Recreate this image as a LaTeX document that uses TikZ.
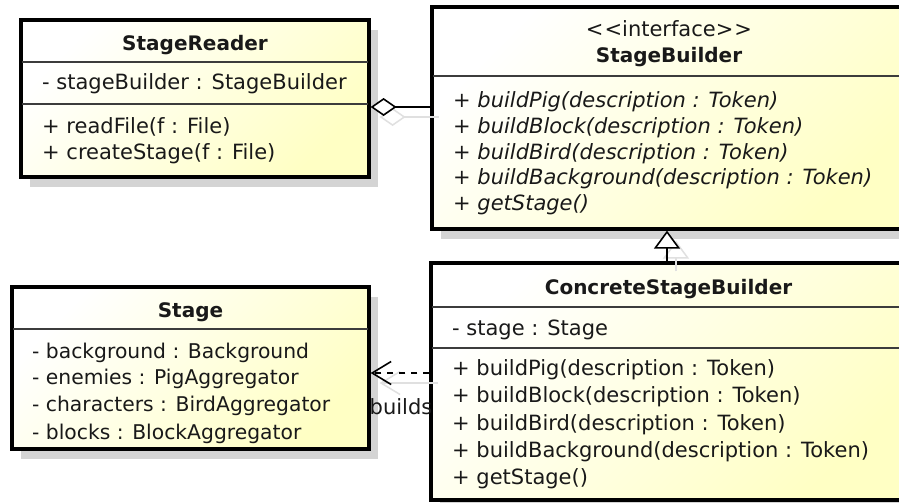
\documentclass[tikz,border=0pt]{standalone}
\usepackage{fontspec}
\setmainfont{DejaVu Sans}
\usetikzlibrary{arrows.meta,shadows}
\definecolor{umly}{RGB}{255,255,196}
\definecolor{shadowgray}{RGB}{212,212,212}
\definecolor{sepgray}{RGB}{60,60,60}
\definecolor{ghost}{RGB}{224,224,224}
\definecolor{ink}{RGB}{25,25,25}
\begin{document}
\begin{tikzpicture}[x=1pt,y=-1pt,
  classbox/.style={draw=black, line width=3.2pt, top color=white, bottom color=umly, shading angle=45,
    drop shadow={shadow xshift=9pt, shadow yshift=-10pt, fill=shadowgray, opacity=1},
    inner sep=0pt},
  sepline/.style={draw=sepgray, line width=1.6pt, shorten <=3pt, shorten >=3pt},
  txt/.style={inner sep=0pt, anchor=base west, font=\fontsize{21}{25}\selectfont, text=ink},
  stxt/.style={inner sep=0pt, anchor=base west, font=\fontsize{20.3}{25}\selectfont, text=ink},
  itxt/.style={inner sep=0pt, anchor=base west, font=\fontsize{21}{25}\selectfont\itshape, text=ink},
  ctxt/.style={inner sep=0pt, anchor=base, font=\fontsize{21}{25}\selectfont, text=ink},
  ttl/.style={inner sep=0pt, anchor=base, font=\fontsize{20}{25}\selectfont\bfseries, text=ink},
  aggrline/.style={draw=black, line width=1.6pt, {Diamond[fill=white, length=26pt, width=18pt]}-},
  genline/.style={draw=black, line width=1.6pt, -{Triangle[fill=white, length=18pt, width=26pt]}},
  depline/.style={draw=black, line width=1.6pt, dash pattern=on 6pt off 6pt, -{Straight Barb[length=19pt, width=23pt]}},
  ghostc/.style={draw=ghost, line width=1.5pt, transform canvas={xshift=9pt, yshift=-10pt}}
]
\useasboundingbox (0,0) rectangle (899,503);
\fill[white] (0,0) rectangle (899,503);
\clip (0,0) rectangle (899,503);

% class boxes
\node[classbox, minimum width=348pt, minimum height=157pt] (reader) at (195,98.5) {};
\node[classbox, minimum width=474pt, minimum height=222pt] (sb) at (669,118) {};
\node[classbox, minimum width=357pt, minimum height=162pt] (stage) at (190.5,368) {};
\node[classbox, minimum width=475pt, minimum height=237pt] (csb) at (668.5,381.5) {};

% separators
\draw[sepline] (reader.west |- 0,62) -- (reader.east |- 0,62);
\draw[sepline] (reader.west |- 0,104) -- (reader.east |- 0,104);
\draw[sepline] (sb.west |- 0,76) -- (sb.east |- 0,76);
\draw[sepline] (stage.west |- 0,329) -- (stage.east |- 0,329);
\draw[sepline] (csb.west |- 0,307) -- (csb.east |- 0,307);
\draw[sepline] (csb.west |- 0,348) -- (csb.east |- 0,348);

% StageReader
\node[ttl] (readerT) at (195,50.5) {StageReader};
\node[txt] (readerA1) at (42,89.5) {- stageBuilder : StageBuilder};
\node[txt] (readerM1) at (42,133.5) {+ readFile(f : File)};
\node[txt] (readerM2) at (42,159.5) {+ createStage(f : File)};

% StageBuilder
\node[ctxt] (sbS) at (669,36.5) {<\kern1pt<interface>\kern1pt>};
\node[ttl] (sbT) at (669,62.5) {StageBuilder};
\node[itxt] (sbM1) at (453,107.5) {+ buildPig(description : Token)};
\node[itxt] (sbM2) at (453,133.5) {+ buildBlock(description : Token)};
\node[itxt] (sbM3) at (453,159.5) {+ buildBird(description : Token)};
\node[itxt] (sbM4) at (453,184.5) {+ buildBackground(description : Token)};
\node[itxt] (sbM5) at (453,210.5) {+ getStage()};

% Stage
\node[ttl] (stageT) at (190.5,317.5) {Stage};
\node[stxt] (stageA1) at (32,358.5) {- background : Background};
\node[stxt] (stageA2) at (32,384.5) {- enemies : PigAggregator};
\node[stxt] (stageA3) at (32,411.5) {- characters : BirdAggregator};
\node[stxt] (stageA4) at (32,439.5) {- blocks : BlockAggregator};

% ConcreteStageBuilder
\node[ttl] (csbT) at (668.5,294.5) {ConcreteStageBuilder};
\node[txt] (csbA1) at (452,335.5) {- stage : Stage};
\node[txt] (csbM1) at (452,375.5) {+ buildPig(description : Token)};
\node[txt] (csbM2) at (452,402.5) {+ buildBlock(description : Token)};
\node[txt] (csbM3) at (452,430.5) {+ buildBird(description : Token)};
\node[txt] (csbM4) at (452,457.5) {+ buildBackground(description : Token)};
\node[txt] (csbM5) at (452,484.5) {+ getStage()};

% ghost (shadow) connectors
\draw[ghostc, {Diamond[open, length=26pt, width=18pt]}-] (reader.east |- 0,107) -- (sb.west |- 0,107);
\draw[ghostc, -{Triangle[open, length=18pt, width=26pt]}] (csb.north -| 667,0) -- (sb.south -| 667,0);
\draw[ghostc, -{Straight Barb[length=19pt, width=23pt]}] (csb.west |- 0,373) -- (stage.east |- 0,373);

% connectors
\draw[aggrline] (reader.east |- 0,107) -- (sb.west |- 0,107);
\draw[genline] (csb.north -| 667,0) -- (sb.south -| 667,0);
\draw[depline] (csb.west |- 0,373) -- (stage.east |- 0,373);
\node[ctxt] (buildsL) at (401,414.5) {builds};
\end{tikzpicture}
\end{document}
